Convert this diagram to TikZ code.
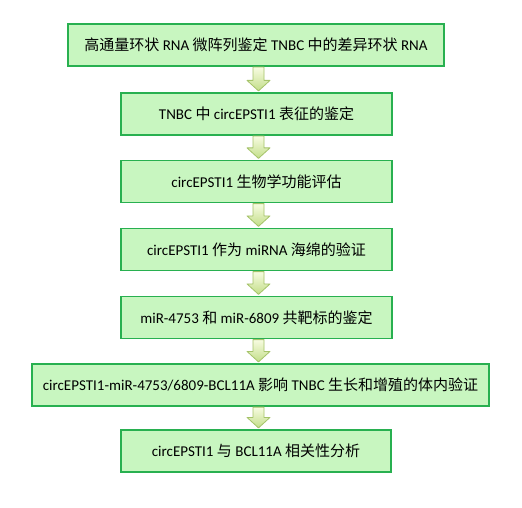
\documentclass[tikz,border=0pt]{standalone}
\usepackage{fontspec}
\setmainfont{Carlito}
\newfontfamily\cjk{Noto Sans CJK SC}
\usetikzlibrary{calc}
\definecolor{boxfill}{RGB}{200,246,192}
\definecolor{boxline}{RGB}{40,176,80}
\definecolor{arrline}{RGB}{165,195,105}
\definecolor{arrtop}{RGB}{248,252,226}
\definecolor{arrbot}{RGB}{194,222,136}
\tikzset{
  stepbox/.style={draw=boxline, line width=1.2bp, fill=boxfill, minimum height=42bp, inner sep=0pt,
    font=\fontsize{15bp}{18bp}\selectfont, text=black},
  fatarrow/.style={draw=arrline, line width=0.8bp, top color=arrtop, bottom color=arrbot, line join=round}
}
\newcommand\flowarrow[2]{%
  \path[fatarrow]
    ($(axis |- #1.south)+(-5.5,0.5)$) -- ($(axis |- #1.south)+(5.5,0.5)$) --
    ($(axis |- #2.north)+(5.5,-12)$) -- ($(axis |- #2.north)+(11.5,-12)$) --
    ($(axis |- #2.north)+(0,-1.5)$) -- ($(axis |- #2.north)+(-11.5,-12)$) --
    ($(axis |- #2.north)+(-5.5,-12)$) -- cycle;}
\begin{document}
\begin{tikzpicture}[x=1bp,y=-1bp]
  \useasboundingbox[fill=white] (0,0) rectangle (522,508);
  \coordinate (axis) at (258.5,0);
  \node[stepbox, minimum width=376bp] (s1) at (256,45)
    {{\cjk 高通量环状} RNA {\cjk 微阵列鉴定} TNBC {\cjk 中的差异环状} RNA};
  \node[stepbox, minimum width=271bp] (s2) at (256.5,114)
    {TNBC {\cjk 中} circEPSTI1 {\cjk 表征的鉴定}};
  \node[stepbox, minimum width=271bp] (s3) at (256.5,181.5)
    {circEPSTI1 {\cjk 生物学功能评估}};
  \node[stepbox, minimum width=271bp] (s4) at (256.5,249.5)
    {circEPSTI1 {\cjk 作为} miRNA {\cjk 海绵的验证}};
  \node[stepbox, minimum width=271bp] (s5) at (256.5,317.5)
    {miR-4753 {\cjk 和} miR-6809 {\cjk 共靶标的鉴定}};
  \node[stepbox, minimum width=457bp] (s6) at (260.5,385)
    {circEPSTI1-miR-4753/6809-BCL11A {\cjk 影响} TNBC {\cjk 生长和增殖的体内验证}};
  \node[stepbox, minimum width=270bp] (s7) at (256,451)
    {circEPSTI1 {\cjk 与} BCL11A {\cjk 相关性分析}};
  \flowarrow{s1}{s2}
  \flowarrow{s2}{s3}
  \flowarrow{s3}{s4}
  \flowarrow{s4}{s5}
  \flowarrow{s5}{s6}
  \flowarrow{s6}{s7}
\end{tikzpicture}
\end{document}
